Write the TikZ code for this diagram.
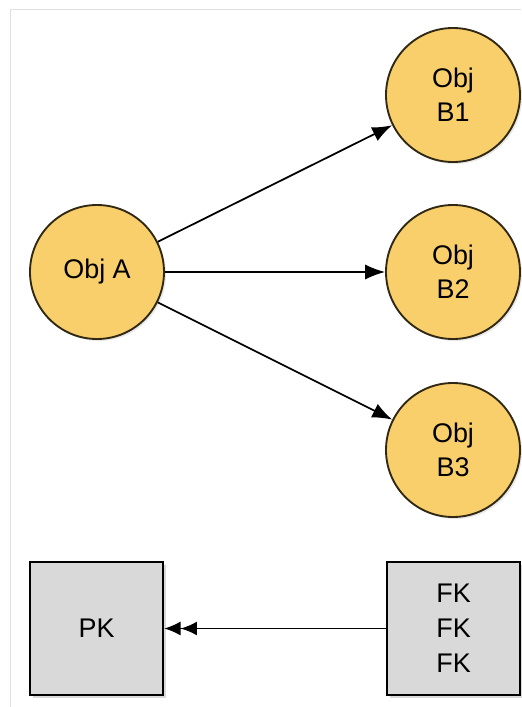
\documentclass[tikz,border=0pt]{standalone}
\usepackage{fontspec}
\setmainfont{Liberation Sans}
\usetikzlibrary{arrows.meta,shadows}
\definecolor{objfill}{HTML}{F8CF6A}
\definecolor{boxfill}{HTML}{D9D9D9}
\tikzset{
  obj/.style={circle,draw=black!80!objfill,line width=1.6pt,fill=objfill,
    minimum size=4.02cm,inner sep=0pt,align=center,font=\fontsize{23}{29}\selectfont,
    drop shadow={opacity=0.18,shadow xshift=0.06cm,shadow yshift=-0.06cm}},
  keybox/.style={rectangle,draw=black,line width=2pt,fill=boxfill,
    minimum width=3.99cm,minimum height=3.99cm,inner sep=0pt,align=center,
    font=\fontsize{23}{30}\selectfont,
    drop shadow={opacity=0.3,shadow xshift=0.08cm,shadow yshift=-0.08cm}},
  link/.style={line width=1.5pt,-{Latex[length=17pt,width=13pt]}},
  fklink/.style={line width=1.5pt,-{Latex[length=14pt,width=12pt]Latex[length=14pt,width=12pt]}},
}
\begin{document}
\begin{tikzpicture}[x=0.03cm,y=-0.03cm]
\useasboundingbox (0,0) rectangle (521,707);
\draw[black!12,line width=0.8pt] (10,707) -- (10,9) -- (521,9);
\node[obj] (a) at (97,272) {Obj A};
\node[obj] (b1) at (453,95) {Obj\\B1};
\node[obj] (b2) at (453,272) {Obj\\B2};
\node[obj] (b3) at (453,450) {Obj\\B3};
\node[keybox] (pk) at (96.5,628.5) {PK};
\node[keybox] (fk) at (453.5,628.5) {FK\\FK\\FK};
\draw[link] (a) -- (b1);
\draw[link] (a) -- (b2);
\draw[link] (a) -- (b3);
\draw[fklink] (fk) -- (pk);
\end{tikzpicture}
\end{document}
